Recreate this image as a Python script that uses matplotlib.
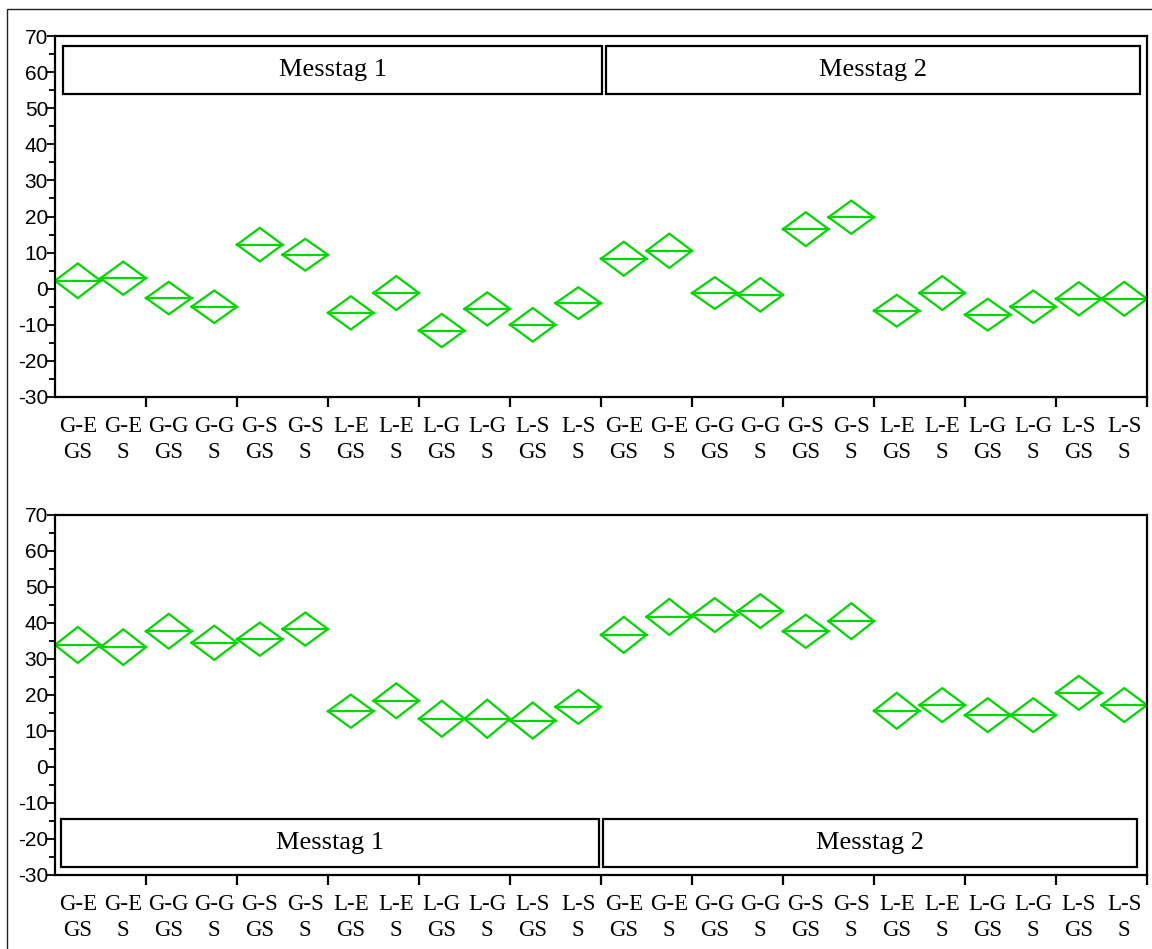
import matplotlib
matplotlib.use("Agg")
import matplotlib.pyplot as plt
from matplotlib.patches import Rectangle
from matplotlib.ticker import FixedLocator, MultipleLocator

plt.rcParams["axes.unicode_minus"] = False

# Group labels (factor combination / treatment), repeated for both measurement days
groups = ["G-E\nGS", "G-E\nS", "G-G\nGS", "G-G\nS", "G-S\nGS", "G-S\nS",
          "L-E\nGS", "L-E\nS", "L-G\nGS", "L-G\nS", "L-S\nGS", "L-S\nS"]
labels = groups + groups
days = ["Messtag 1", "Messtag 2"]

# Upper panel: group means and half-widths of the confidence diamonds
top_mean = [2.2, 2.9, -2.6, -5.0, 12.2, 9.4, -6.7, -1.2, -11.6, -5.6, -10.0, -4.0,
            8.3, 10.5, -1.2, -1.7, 16.5, 19.8, -6.1, -1.2, -7.2, -5.0, -2.8, -2.8]
top_half = [4.8, 4.6, 4.5, 4.5, 4.65, 4.4, 4.6, 4.7, 4.6, 4.6, 4.65, 4.4,
            4.7, 4.75, 4.4, 4.65, 4.7, 4.6, 4.4, 4.7, 4.4, 4.5, 4.6, 4.7]

# Lower panel
bot_mean = [33.9, 33.3, 37.7, 34.5, 35.5, 38.3, 15.5, 18.4, 13.4, 13.4, 12.9, 16.7,
            36.7, 41.7, 42.2, 43.3, 37.7, 40.5, 15.6, 17.2, 14.4, 14.4, 20.6, 17.2]
bot_half = [5.0, 4.95, 4.85, 4.75, 4.6, 4.6, 4.6, 4.85, 5.0, 5.3, 5.0, 4.7,
            5.0, 5.0, 4.7, 4.7, 4.6, 5.0, 5.0, 4.7, 4.7, 4.7, 4.7, 4.7]

GREEN = "#00D800"
W, H = 1152, 949

fig = plt.figure(figsize=(W / 100, H / 100), dpi=100)

# outer frame around the whole graphic
fig.patches.append(Rectangle((7 / W, -0.05), 1.2, 1 - 9 / H + 0.05,
                             transform=fig.transFigure, fill=False,
                             edgecolor="#222222", linewidth=1.0))

ax_top = fig.add_axes([55 / W, 1 - 397 / H, 1092 / W, 361 / H])
ax_bot = fig.add_axes([55 / W, 1 - 875 / H, 1092 / W, 360 / H])


def draw_panel(ax, means, halves, box_y0, box_y1, box_x):
    n = len(means)
    for i, (m, h) in enumerate(zip(means, halves)):
        xs = [i - 0.5, i, i + 0.5, i, i - 0.5]
        ys = [m, m + h, m, m - h, m]
        ax.plot(xs, ys, color=GREEN, lw=1.6, solid_joinstyle="miter")
        ax.plot([i - 0.5, i + 0.5], [m, m], color=GREEN, lw=1.6)

    ax.set_xlim(-0.5, n - 0.5)
    ax.set_ylim(-30, 70)

    for sp in ax.spines.values():
        sp.set_linewidth(1.6)
        sp.set_color("black")

    # group separators as ticks, labels on the centres
    ax.xaxis.set_major_locator(FixedLocator([k + 1.5 for k in range(0, n, 2)]))
    ax.xaxis.set_minor_locator(FixedLocator(list(range(n))))
    ax.set_xticklabels([], minor=False)
    ax.set_xticklabels(labels, minor=True, family="Liberation Serif",
                       fontsize=16.5, linespacing=1.3)
    ax.tick_params(axis="x", which="major", direction="out", length=7.5,
                   width=1.6, color="black")
    ax.tick_params(axis="x", which="minor", length=0, pad=14)

    ax.yaxis.set_major_locator(MultipleLocator(10))
    ax.yaxis.set_minor_locator(MultipleLocator(5))
    ax.tick_params(axis="y", which="major", direction="out", length=6,
                   width=1.3, pad=-1, labelsize=15)
    ax.tick_params(axis="y", which="minor", direction="out", length=4,
                   width=1.3)
    for t in ax.get_yticklabels():
        t.set_family("Liberation Sans")

    for (x0, x1), day in zip(box_x, days):
        ax.add_patch(Rectangle((x0, box_y0), x1 - x0, box_y1 - box_y0,
                               fill=False, edgecolor="black", lw=1.6))
        ax.text((x0 + x1) / 2, (box_y0 + box_y1) / 2, day,
                ha="center", va="center", family="Liberation Serif",
                fontsize=19)


draw_panel(ax_top, top_mean, top_half, 53.9, 67.2,
           [(-0.32, 11.52), (11.61, 23.35)])
draw_panel(ax_bot, bot_mean, bot_half, -27.8, -14.4,
           [(-0.37, 11.46), (11.54, 23.28)])

fig.savefig("out.png", dpi=100)
